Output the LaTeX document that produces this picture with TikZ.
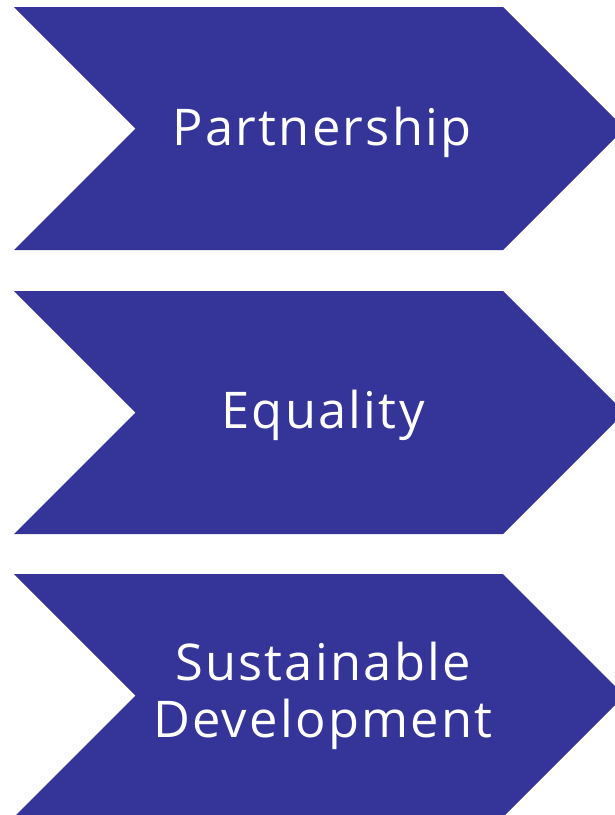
\documentclass[tikz,border=0pt]{standalone}
\usepackage{fontspec}
\setmainfont{Open Sans}[LetterSpace=4.5]
\usetikzlibrary{positioning,calc}
\definecolor{pillarblue}{RGB}{52,52,153}

\tikzset{
  chevron/.style={fill=pillarblue},
  pillarlabel/.style={font=\fontsize{36}{40.5}\selectfont, color=white, align=center, inner sep=0pt}
}

\begin{document}
\begin{tikzpicture}
\useasboundingbox (0,0) rectangle (15.35,-20.375);

% Partnership chevron
\fill[chevron] (0.35,-0.175) -- (12.575,-0.175) -- (15.6125,-3.2125)
      -- (12.575,-6.25) -- (0.35,-6.25) -- (3.3875,-3.2125) -- cycle;
\node[pillarlabel, anchor=base] (partner) at (8.05,-3.625) {Partnership};

% Equality chevron
\fill[chevron] (0.35,-7.275) -- (12.575,-7.275) -- (15.6125,-10.3125)
      -- (12.575,-13.35) -- (0.35,-13.35) -- (3.3875,-10.3125) -- cycle;
\node[pillarlabel, anchor=base] (equal) at (8.075,-10.7) {Equality};

% Sustainable Development chevron (runs off the bottom)
\fill[chevron] (0.35,-14.35) -- (12.575,-14.35) -- (15.6125,-17.3875)
      -- (12.575,-20.425) -- (0.35,-20.425) -- (3.3875,-17.3875) -- cycle;
\node[pillarlabel] (sustain) at (8.075,-17.4) {Sustainable\\Development};
\end{tikzpicture}
\end{document}
